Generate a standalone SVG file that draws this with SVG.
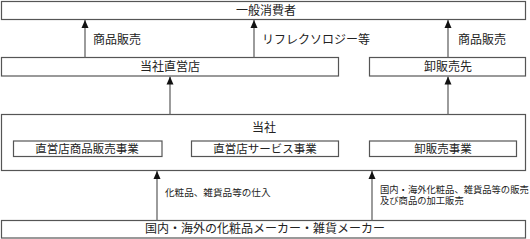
<svg xmlns="http://www.w3.org/2000/svg" width="530" height="239" viewBox="0 0 530 239">
<defs>
<marker id="ah" viewBox="0 0 8 8" refX="8" refY="4" markerWidth="8" markerHeight="8" markerUnits="userSpaceOnUse" orient="auto">
<path d="M0,0.5 L8,4 L0,7.5 Z" fill="#111"/>
</marker>
<style>
rect{fill:#fff;stroke:#555;stroke-width:1.2}
text{font-family:"Liberation Serif","Noto Sans CJK JP",serif;fill:#222;font-size:12px;text-anchor:middle;dominant-baseline:central}
.s{font-size:9.6px;text-anchor:start}
.r{font-size:9.3px}
.l{text-anchor:start}
.b{font-size:11.5px}
line{stroke:#666;stroke-width:1.3;marker-end:url(#ah)}
</style>
</defs>
<g id="consumer"><rect x="1.5" y="1.5" width="524" height="18"/><text x="266" y="10.5">一般消費者</text></g>
<g id="direct-store"><rect x="1.5" y="57.5" width="337" height="18.5"/><text x="170" y="67">当社直営店</text></g>
<g id="wholesaler"><rect x="369.5" y="57.5" width="156" height="18.5"/><text x="448" y="67">卸販売先</text></g>
<g id="company"><rect x="1.5" y="114.5" width="524" height="56"/><text x="264" y="127.5">当社</text></g>
<g id="biz1"><rect x="13.5" y="141" width="148.5" height="15.5"/><text class="b" x="87" y="148.5">直営店商品販売事業</text></g>
<g id="biz2"><rect x="191.5" y="141" width="147" height="15.5"/><text class="b" x="265" y="148.5">直営店サービス事業</text></g>
<g id="biz3"><rect x="369.5" y="141" width="147" height="15.5"/><text class="b" x="443" y="148.5">卸販売事業</text></g>
<g id="makers"><rect x="1.5" y="220.5" width="524" height="17.5"/><text x="265" y="229">国内・海外の化粧品メーカー・雑貨メーカー</text></g>
<g id="connectors">
<line x1="85" y1="57.5" x2="85" y2="20"/>
<line x1="254" y1="57.5" x2="254" y2="20"/>
<line x1="448" y1="57.5" x2="448" y2="20"/>
<line x1="170" y1="114.5" x2="170" y2="76.5"/>
<line x1="448" y1="114.5" x2="448" y2="76.5"/>
<line x1="157" y1="220.5" x2="157" y2="171"/>
<line x1="372" y1="220.5" x2="372" y2="171"/>
<text class="l" x="93" y="40">商品販売</text>
<text class="l" x="262" y="40">リフレクソロジー等</text>
<text class="l" x="458" y="40">商品販売</text>
<text class="s" x="165" y="192.5">化粧品、雑貨品等の仕入</text>
<text class="s r" x="380" y="189.5">国内・海外化粧品、雑貨品等の販売</text>
<text class="s r" x="380" y="201">及び商品の加工販売</text>
</g>
</svg>
